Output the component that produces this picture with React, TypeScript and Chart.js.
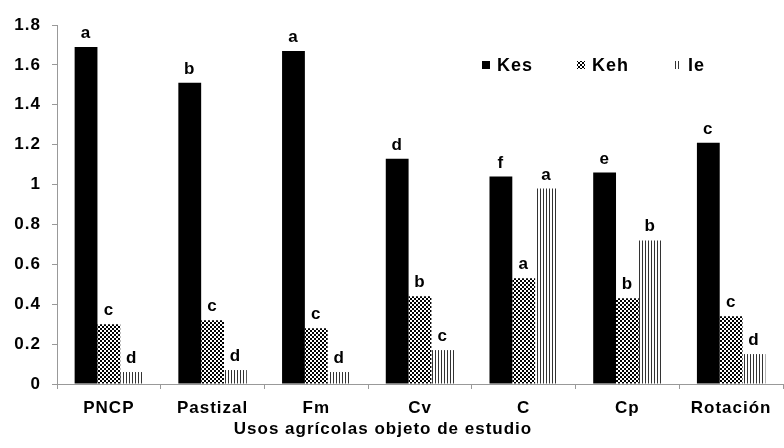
import React, { useEffect, useRef } from "react";
import { Chart, registerables } from "chart.js";

Chart.register(...registerables);

const categories = ["PNCP", "Pastizal", "Fm", "Cv", "C", "Cp", "Rotación"];
const kesValues = [1.69, 1.51, 1.67, 1.13, 1.04, 1.06, 1.21];
const kehValues = [0.3, 0.32, 0.28, 0.44, 0.53, 0.43, 0.34];
const ieValues = [0.06, 0.07, 0.06, 0.17, 0.98, 0.72, 0.15];
const kesLetters = ["a", "b", "a", "d", "f", "e", "c"];
const kehLetters = ["c", "c", "c", "b", "a", "b", "c"];
const ieLetters = ["d", "d", "d", "c", "a", "b", "d"];
const seriesNames = ["Kes", "Keh", "Ie"];
const yTicks = [0, 0.2, 0.4, 0.6, 0.8, 1, 1.2, 1.4, 1.6, 1.8];
const xTitle = "Usos agrícolas objeto de estudio";

const FONT = "'Liberation Sans', Arial, sans-serif";

function checkerPattern(ctx: CanvasRenderingContext2D) {
  const c = document.createElement("canvas");
  c.width = 4;
  c.height = 4;
  const g = c.getContext("2d")!;
  g.fillStyle = "#fff";
  g.fillRect(0, 0, 4, 4);
  g.fillStyle = "#000";
  g.fillRect(0, 0, 2, 2);
  g.fillRect(2, 2, 2, 2);
  return ctx.createPattern(c, "repeat")!;
}

function stripePattern(ctx: CanvasRenderingContext2D) {
  const c = document.createElement("canvas");
  c.width = 3;
  c.height = 3;
  const g = c.getContext("2d")!;
  g.fillStyle = "#fff";
  g.fillRect(0, 0, 3, 3);
  g.fillStyle = "#333";
  g.fillRect(0, 0, 1, 3);
  return ctx.createPattern(c, "repeat")!;
}

function setSpacing(chart: any) {
  const c = chart.ctx as any;
  if ("letterSpacing" in c) c.letterSpacing = "1px";
}

export default function App() {
  const ref = useRef<HTMLCanvasElement>(null);

  useEffect(() => {
    const canvas = ref.current!;
    const ctx = canvas.getContext("2d")!;
    const letters = [kesLetters, kehLetters, ieLetters];

    const spacingPlugin = {
      id: "spacing",
      beforeUpdate: setSpacing,
      beforeLayout: setSpacing,
      beforeDraw: setSpacing,
    };

    const labelPlugin = {
      id: "letters",
      afterDatasetsDraw(chart: any) {
        const c = chart.ctx;
        c.save();
        c.font = `bold 17px ${FONT}`;
        c.fillStyle = "#000";
        c.textAlign = "center";
        c.textBaseline = "alphabetic";
        chart.data.datasets.forEach((ds: any, i: number) => {
          const meta = chart.getDatasetMeta(i);
          meta.data.forEach((el: any, j: number) => {
            c.fillText(letters[i][j], el.x, el.y - 9);
          });
        });
        c.restore();
      },
    };

    const legendPlugin = {
      id: "customLegend",
      afterDraw(chart: any) {
        const c = chart.ctx;
        const boxX = [482, 577, 673];
        const y = 65;
        c.save();
        c.font = `bold 18px ${FONT}`;
        c.textBaseline = "middle";
        c.textAlign = "left";
        chart.data.datasets.forEach((ds: any, i: number) => {
          c.fillStyle = ds.backgroundColor;
          c.fillRect(boxX[i], y - 4, 8, 8);
          c.fillStyle = "#000";
          c.fillText(ds.label, boxX[i] + 15, y + 1);
        });
        // axis title
        c.font = `bold 17px ${FONT}`;
        c.textAlign = "center";
        c.textBaseline = "alphabetic";
        c.fillText(xTitle, 383, 434);
        c.restore();
      },
    };

    const tickFont = { family: FONT, size: 17, weight: "bold" };

    const chart = new Chart(canvas, {
      type: "bar",
      data: {
        labels: categories,
        datasets: [
          { label: seriesNames[0], data: kesValues, backgroundColor: "#000" },
          { label: seriesNames[1], data: kehValues, backgroundColor: checkerPattern(ctx) as any },
          { label: seriesNames[2], data: ieValues, backgroundColor: stripePattern(ctx) as any },
        ],
      },
      options: {
        animation: false,
        responsive: false,
        maintainAspectRatio: false,
        layout: { padding: { top: 25, right: 1, left: 0, bottom: 0 } },
        datasets: {
          bar: { categoryPercentage: 0.66, barPercentage: 1.0, borderWidth: 0 },
        },
        plugins: {
          legend: { display: false },
          tooltip: { enabled: false },
        },
        scales: {
          x: {
            offset: true,
            grid: {
              offset: true,
              drawOnChartArea: false,
              drawTicks: true,
              tickLength: 5,
              color: "#999",
            },
            border: { display: true, color: "#999", width: 1 },
            ticks: {
              color: "#000",
              font: tickFont,
              padding: 9,
              maxRotation: 0,
            },
            afterFit(scale: any) {
              scale.height = 64;
            },
          },
          y: {
            min: 0,
            max: 1.8,
            afterBuildTicks(scale: any) {
              scale.ticks = yTicks.map((v) => ({ value: v }));
            },
            grid: {
              drawOnChartArea: false,
              drawTicks: true,
              tickLength: 5,
              color: "#999",
            },
            border: { display: true, color: "#999", width: 1 },
            ticks: {
              color: "#000",
              font: tickFont,
              padding: 11,
              callback: (v: any) => String(Number(v)),
            },
            afterFit(scale: any) {
              scale.width = 57;
            },
          },
        },
      },
      plugins: [spacingPlugin, labelPlugin, legendPlugin],
    } as any);

    return () => chart.destroy();
  }, []);

  return (
    <div style={{ position: "absolute", left: 0, top: 0, width: 784, height: 448, background: "#fff" }}>
      <canvas ref={ref} width={784} height={448} style={{ display: "block", width: 784, height: 448 }} />
    </div>
  );
}
